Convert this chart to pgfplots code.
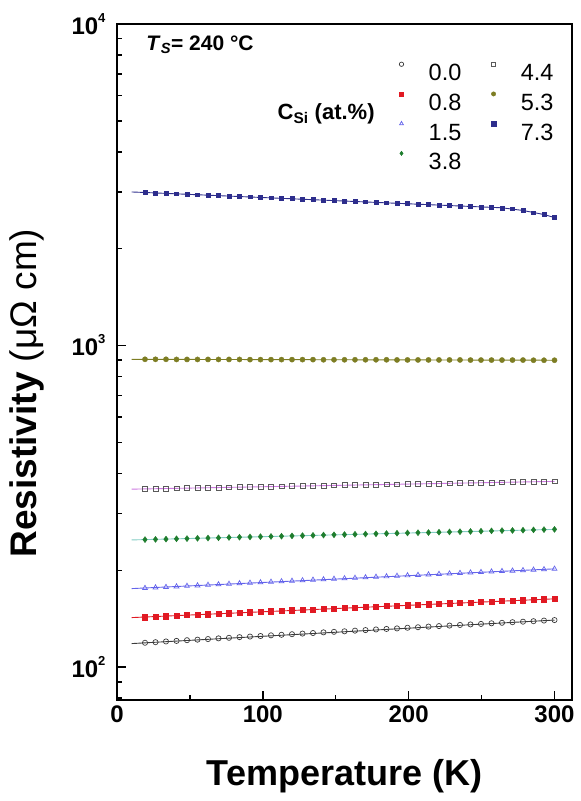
\documentclass[border=0pt]{standalone}
\usepackage{pgfplots}
\pgfplotsset{compat=1.18}
\usepackage{pgfplotstable}
\usepackage{fontspec}
\setmainfont{Liberation Sans}
\usetikzlibrary{calc}

\definecolor{cblk}{RGB}{60,60,60}
\definecolor{cred}{RGB}{225,25,35}
\definecolor{cblue}{RGB}{100,100,235}
\definecolor{cgreen}{RGB}{30,125,45}
\definecolor{cteal}{RGB}{130,205,195}
\definecolor{cmag}{RGB}{205,120,225}
\definecolor{colive}{RGB}{125,125,35}
\definecolor{cnavy}{RGB}{45,45,140}
\definecolor{cgray}{RGB}{90,90,90}

\pgfplotstableread{
T a b c d e f g
19.2 119.0 143.0 176.0 249.0 358.0 906 2992
26.4 119.5 143.5 176.7 249.5 358.5 906 2983
33.6 120.1 144.0 177.3 250.0 359.0 906 2974
40.8 120.6 144.5 178.0 250.5 359.5 905 2965
48.0 121.2 145.1 178.7 250.9 360.1 905 2955
55.2 121.7 145.6 179.3 251.4 360.6 905 2946
62.4 122.2 146.1 180.0 251.9 361.1 905 2937
69.6 122.8 146.6 180.7 252.4 361.6 905 2928
76.8 123.3 147.1 181.3 252.9 362.1 905 2919
84.0 123.9 147.6 182.0 253.4 362.6 905 2910
91.2 124.4 148.1 182.7 253.9 363.1 904 2901
98.4 124.9 148.6 183.3 254.4 363.6 904 2891
105.6 125.5 149.2 184.0 254.8 364.2 904 2882
112.8 126.0 149.7 184.7 255.3 364.7 904 2873
120.0 126.5 150.2 185.3 255.8 365.2 904 2864
127.2 127.1 150.7 186.0 256.3 365.7 904 2855
134.4 127.6 151.2 186.7 256.8 366.2 904 2846
141.6 128.2 151.7 187.3 257.3 366.7 903 2837
148.8 128.7 152.2 188.0 257.8 367.2 903 2827
156.0 129.2 152.7 188.7 258.3 367.7 903 2818
163.2 129.8 153.3 189.3 258.7 368.3 903 2809
170.4 130.3 153.8 190.0 259.2 368.8 903 2800
177.6 130.9 154.3 190.7 259.7 369.3 903 2791
184.8 131.4 154.8 191.3 260.2 369.8 903 2782
192.0 131.9 155.3 192.0 260.7 370.3 902 2773
199.2 132.5 155.8 192.7 261.2 370.8 902 2763
206.4 133.0 156.3 193.3 261.7 371.3 902 2754
213.6 133.6 156.9 194.0 262.1 371.9 902 2745
220.8 134.1 157.4 194.7 262.6 372.4 902 2736
228.0 134.6 157.9 195.3 263.1 372.9 902 2727
235.2 135.2 158.4 196.0 263.6 373.4 902 2718
242.4 135.7 158.9 196.7 264.1 373.9 901 2709
249.6 136.2 159.4 197.3 264.6 374.4 901 2699
256.8 136.8 159.9 198.0 265.1 374.9 901 2690
264.0 137.3 160.4 198.7 265.6 375.4 901 2681
271.2 137.9 161.0 199.3 266.0 376.0 901 2665
278.4 138.4 161.5 200.0 266.5 376.5 901 2630
285.6 138.9 162.0 200.7 267.0 377.0 900 2590
292.8 139.5 162.5 201.3 267.5 377.5 900 2555
300.0 140.0 163.0 202.0 268.0 378.0 900 2500
}\data

\begin{document}
\begin{tikzpicture}
\begin{axis}[name=ax, scale only axis, width=455pt, height=676pt,
  ymode=log, xmin=0, xmax=312, ymin=79, ymax=10000,
  xtick={0,100,200,300}, xticklabels={0,100,200,300},
  minor xtick={50,150,250},
  ytick={100,1000,10000},
  yticklabels={10\raisebox{0.5em}{\fontsize{13}{13}\selectfont 2},
               10\raisebox{0.5em}{\fontsize{13}{13}\selectfont 3},
               10\raisebox{0.5em}{\fontsize{13}{13}\selectfont 4}},
  minor ytick={80,90,200,300,400,500,600,700,800,900,2000,3000,4000,5000,6000,7000,8000,9000},
  tick pos=left, tick align=inside,
  major tick length=9pt, minor tick length=5pt,
  every tick/.style={line width=1.5pt, black},
  axis line style={line width=2pt},
  ticklabel style={font=\bfseries\fontsize{24}{24}\selectfont},
  xticklabel style={yshift=-2pt},
  yticklabel style={xshift=-8pt},
  xlabel={\textbf{Temperature (K)}},
  ylabel={\textbf{Resistivity} (μΩ cm)},
  label style={font=\fontsize{36}{36}\selectfont},
  ylabel style={at={(ticklabel cs:0.454)}, yshift=20pt, font=\fontsize{37}{37}\selectfont},
  xlabel style={yshift=-30pt},
  clip=false,
  legend columns=2,
  legend image code/.code={\draw[#1, mark size=2.2pt] plot coordinates {(0pt,8pt)};},
  legend style={draw=none, fill=none, at={(0.62,0.944)}, anchor=north west,
    inner sep=0pt, font=\fontsize{23.5}{24}\selectfont,
    nodes={inner sep=0pt, text height=17pt, text depth=0pt},
    row sep=11pt, column sep=25pt,
    /tikz/every even column/.append style={column sep=30pt}},
]
% fit lines
\addplot[forget plot, cblk, line width=0.9pt] coordinates {(10,118.3) (300,140)};
\addplot[forget plot, cred, line width=0.9pt] coordinates {(10,142.5) (300,163)};
\addplot[forget plot, cblue, line width=0.9pt] coordinates {(10,175.4) (300,202)};
\addplot[forget plot, cteal, line width=0.9pt] coordinates {(10,248.5) (300,268)};
\addplot[forget plot, cmag, line width=0.9pt] coordinates {(10,357.5) (300,378)};
\addplot[forget plot, colive, line width=0.9pt] coordinates {(10,906) (300,900)};
\addplot[forget plot, cnavy, line width=0.9pt] coordinates {(10,3003) (19.2,2992) (264,2681) (278.4,2630) (292.8,2555) (300,2500)};
% data (order chosen for column-wise legend)
\addplot[only marks, mark=o, mark size=2.6pt, cblk, mark options={line width=0.7pt}] table[x=T,y=a]{\data};
\addlegendentry{0.0}
\addplot[only marks, mark=square, mark size=2.4pt, cgray, mark options={line width=0.7pt}] table[x=T,y=e]{\data};
\addlegendentry{4.4}
\addplot[only marks, mark=square*, mark size=2.6pt, cred] table[x=T,y=b]{\data};
\addlegendentry{0.8}
\addplot[only marks, mark=*, mark size=2.6pt, colive] table[x=T,y=f]{\data};
\addlegendentry{5.3}
\addplot[only marks, mark=triangle, mark size=2.8pt, cblue, mark options={line width=0.7pt}] table[x=T,y=c]{\data};
\addlegendentry{1.5}
\addplot[only marks, mark=square*, mark size=1.9pt, cnavy] table[x=T,y=g]{\data};
\addlegendentry{7.3}
\addplot[only marks, mark=diamond*, mark size=3pt, cgreen] table[x=T,y=d]{\data};
\addlegendentry{3.8}
\node[anchor=west, font=\bfseries\fontsize{21}{21}\selectfont] at (rel axis cs:0.057,0.969) {\textit{T}\textsubscript{\textit{S}}= 240 °C};
\node[anchor=east, font=\bfseries\fontsize{22}{22}\selectfont] at (rel axis cs:0.574,0.867) {C\textsubscript{Si} (at.\%)};
\end{axis}
\pgfresetboundingbox
\path ($(ax.south west)+(-117pt,-101pt)$) rectangle ($(ax.north east)+(9pt,24pt)$);
\end{tikzpicture}
\end{document}
